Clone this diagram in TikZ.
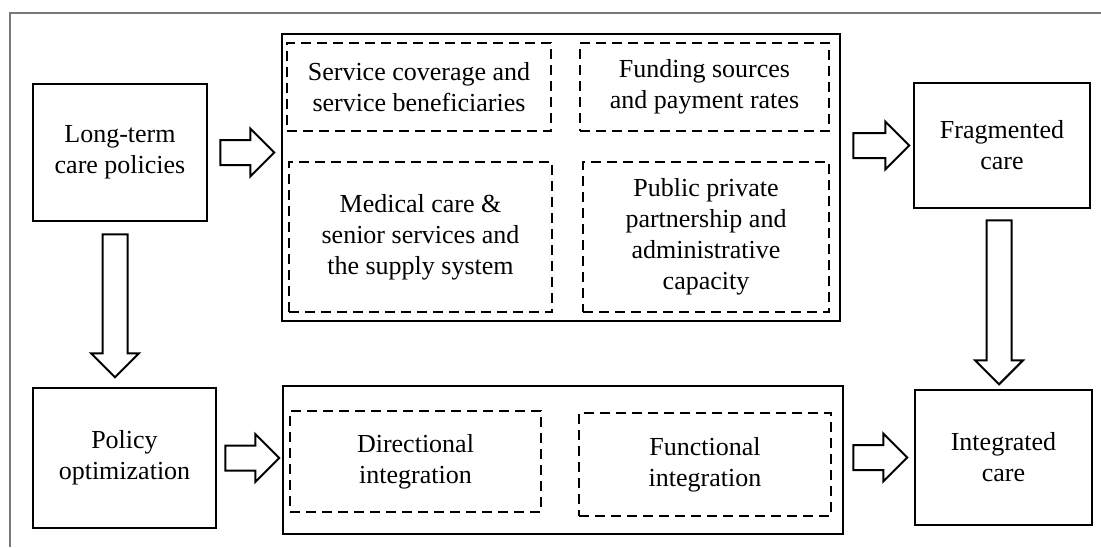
\documentclass[tikz,border=0pt]{standalone}
\usepackage{fontspec}
\setmainfont{Liberation Serif}
\usetikzlibrary{calc, positioning, shapes.arrows}
\definecolor{framegray}{RGB}{120, 120, 120}

\begin{document}
\begin{tikzpicture}[x=0.5pt, y=-0.5pt,
    mainbox/.style={draw, line width=1.3pt, align=center, inner sep=0pt,
        font=\fontsize{13}{15.5}\selectfont},
    subbox/.style={draw, dash pattern=on 5pt off 3pt, line width=1pt,
        align=center, inner sep=0pt, font=\fontsize{13}{15.5}\selectfont},
    blockarrow/.style={single arrow, draw, fill=white, line width=1pt,
        inner sep=5.75pt, single arrow head extend=5.75pt, outer sep=0pt}]
    % Page size: 1101 x 547 px
    \useasboundingbox (0,0) rectangle (1101,547);

    % Outer frame
    \draw[framegray, line width=1pt] (10,547) -- (10,13) -- (1101,13);

    % Left column
    \node[mainbox, minimum width=87pt, minimum height=68.5pt]
        (policies) at (120,152.5) {Long-term\\care policies};
    \node[mainbox, minimum width=91.5pt, minimum height=70pt]
        (optim) at (124.5,458) {Policy\\optimization};

    % Middle blocks
    \node[mainbox, minimum width=279pt, minimum height=143.5pt]
        (issues) at (561,177.5) {};
    \node[mainbox, minimum width=280pt, minimum height=74pt]
        (integ) at (563,460) {};

    % Policy issues (dashed)
    \node[subbox, minimum width=132pt, minimum height=44pt]
        (coverage) at (419,87) {Service coverage and\\service beneficiaries};
    \node[subbox, minimum width=124.5pt, minimum height=44pt]
        (funding) at (704.5,87) {Funding sources\\and payment rates};
    \node[subbox, minimum width=131.5pt, minimum height=75pt]
        (medical) at (420.5,237) {Medical care \&\\senior services and\\the supply system};
    \node[subbox, minimum width=123pt, minimum height=75pt]
        (ppp) at (706,237) {Public private\\partnership and\\administrative\\capacity};

    % Integration types (dashed)
    \node[subbox, minimum width=125.5pt, minimum height=50.5pt]
        (direct) at (415.5,461.5) {Directional\\integration};
    \node[subbox, minimum width=126pt, minimum height=51.5pt]
        (funct) at (705,464.5) {Functional\\integration};

    % Right column
    \node[mainbox, minimum width=88pt, minimum height=62.5pt]
        (frag) at (1002,145.5) {Fragmented\\care};
    \node[mainbox, minimum width=88.5pt, minimum height=67.5pt]
        (intcare) at (1003.5,457.5) {Integrated\\care};

    % Block arrows, left to right
    \node[blockarrow, minimum height=27pt, right=6pt of policies] (arr1) {};
    \node[blockarrow, minimum height=28pt, anchor=west]
        (arr2) at ($(issues.east |- frag.west)+(12,0)$) {};
    \node[blockarrow, minimum height=27pt, right=4pt of optim] (arr3) {};
    \node[blockarrow, minimum height=27pt, anchor=west]
        (arr4) at ($(integ.east |- intcare.west)+(9,0)$) {};

    % Block arrows, downwards
    \node[blockarrow, minimum height=71.5pt, rotate=-90, anchor=west]
        (arr5) at ($(policies.south)+(-5,12)$) {};
    \node[blockarrow, minimum height=82pt, rotate=-90, anchor=west]
        (arr6) at ($(frag.south)+(-3,11)$) {};

\end{tikzpicture}
\end{document}
